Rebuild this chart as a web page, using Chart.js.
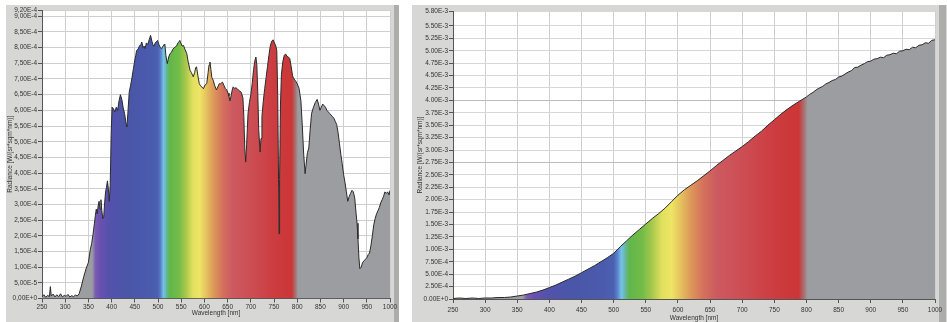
<!DOCTYPE html>
<html>
<head>
<meta charset="utf-8">
<script src="https://cdn.jsdelivr.net/npm/chart.js@4.4.1/dist/chart.umd.min.js"></script>
<style>
  html, body { margin: 0; padding: 0; background: #fff; }
  body { width: 947px; height: 322px; position: relative; overflow: hidden; }
  .panel { position: absolute; top: 5px; height: 317px; background: #d7d7d5; }
  .bar { position: absolute; top: 5px; height: 317px; background: #adadab; }
  canvas { position: absolute; top: 5px; }
</style>
</head>
<body>
<div class="panel" style="left:6px;width:393px"></div>
<div class="bar" style="left:394px;width:5px"></div>
<div class="panel" style="left:412px;width:535px"></div>
<div class="bar" style="left:939px;width:7px"></div>
<canvas id="leftChart" width="393" height="317" style="left:6px"></canvas>
<canvas id="rightChart" width="535" height="317" style="left:412px"></canvas>
<script>
// left panel: spectral radiance (W/(sr*sqm*nm)) vs wavelength
const leftNm = [250, 254, 258, 262, 266, 268, 270, 274, 278, 282, 286, 290, 294, 298, 302, 306, 310, 314, 318, 322, 326, 330,
  335, 340, 345, 350, 354, 357, 360, 363, 365, 367, 369, 371, 373, 375, 377, 379, 381, 383, 385, 387, 389, 391, 393, 395, 397, 399,
  401, 404, 407, 410, 413, 416, 419, 422, 425, 428, 431, 433, 435, 438, 441, 444, 447, 450, 452, 454, 457, 460, 463, 465, 468, 470,
  472, 475, 478, 481, 484, 487, 489, 491, 494, 497, 499, 502, 505, 508, 511, 513, 515, 517, 520, 523, 526, 529, 532, 535, 537, 540,
  543, 545, 547, 549, 552, 555, 558, 562, 565, 569, 572, 576, 579, 581, 583, 586, 589, 591, 594, 598, 601, 605, 608, 610, 612, 614,
  616, 619, 622, 626, 629, 632, 635, 639, 642, 645, 648, 651, 653, 655, 657, 660, 662, 665, 668, 670, 673, 676, 678, 680, 683, 685,
  687, 689, 691, 694, 697, 700, 703, 706, 709, 711, 713, 715, 717, 720, 722, 724, 727, 730, 733, 736, 739, 742, 745, 748, 751, 754,
  756, 758, 760, 761, 762, 764, 766, 769, 772, 775, 778, 781, 784, 787, 790, 793, 796, 800, 804, 808, 811, 814, 817, 819, 822, 825,
  828, 831, 835, 839, 843, 846, 849, 852, 855, 858, 861, 864, 867, 870, 873, 876, 879, 882, 885, 888, 891, 894, 897, 900, 903, 906,
  909, 912, 915, 918, 921, 924, 927, 929, 931, 933, 935, 938, 941, 944, 947, 950, 953, 956, 959, 962, 965, 968, 971, 974, 977, 980,
  983, 986, 989, 992, 995, 998, 1000];
const leftRadiance = [0.05e-4, 0.12e-4, 0.04e-4, 0.10e-4, 0.06e-4, 0.38e-4, 0.08e-4, 0.14e-4, 0.05e-4, 0.12e-4, 0.06e-4, 0.15e-4,
  0.05e-4, 0.10e-4, 0.07e-4, 0.13e-4, 0.05e-4, 0.09e-4, 0.06e-4, 0.11e-4, 0.08e-4, 0.15e-4,
  0.40e-4, 0.70e-4, 0.95e-4, 1.15e-4, 1.55e-4, 1.75e-4, 2.05e-4, 2.40e-4, 2.65e-4, 2.85e-4, 2.70e-4, 2.95e-4, 3.10e-4, 2.85e-4,
  3.15e-4, 2.80e-4, 2.55e-4, 2.60e-4, 3.05e-4, 3.40e-4, 3.55e-4, 3.75e-4, 3.50e-4, 3.10e-4, 3.60e-4, 5.20e-4,
  6.10e-4, 6.05e-4, 5.95e-4, 6.10e-4, 6.00e-4, 6.30e-4, 6.50e-4, 6.35e-4, 6.08e-4, 5.90e-4, 5.60e-4, 5.47e-4, 5.90e-4, 6.58e-4,
  6.80e-4, 7.05e-4, 7.33e-4, 7.60e-4, 7.75e-4, 7.91e-4, 7.95e-4, 8.05e-4, 8.10e-4, 8.18e-4, 8.00e-4, 8.05e-4,
  7.97e-4, 8.15e-4, 8.10e-4, 8.25e-4, 8.39e-4, 8.20e-4, 8.10e-4, 8.04e-4, 8.15e-4, 8.20e-4, 8.23e-4, 8.10e-4, 8.00e-4, 7.97e-4,
  8.05e-4, 8.10e-4, 8.08e-4, 7.75e-4, 7.49e-4, 7.70e-4, 7.81e-4, 7.85e-4, 7.95e-4, 8.00e-4, 8.02e-4, 8.05e-4,
  8.15e-4, 8.18e-4, 8.23e-4, 8.15e-4, 8.05e-4, 8.07e-4, 7.95e-4, 7.81e-4, 7.55e-4, 7.28e-4, 7.20e-4, 7.07e-4, 7.20e-4, 7.35e-4,
  7.39e-4, 7.10e-4, 6.85e-4, 6.80e-4, 6.75e-4, 6.69e-4, 6.80e-4, 6.85e-4, 7.20e-4, 7.45e-4, 7.54e-4, 7.30e-4,
  7.05e-4, 6.96e-4, 6.80e-4, 6.65e-4, 6.75e-4, 6.85e-4, 6.85e-4, 6.90e-4, 6.80e-4, 6.70e-4, 6.65e-4, 6.55e-4, 6.45e-4, 6.30e-4,
  6.43e-4, 6.65e-4, 6.75e-4, 6.70e-4, 6.72e-4, 6.70e-4, 6.65e-4, 6.62e-4, 6.60e-4, 6.55e-4, 6.40e-4, 5.80e-4,
  4.80e-4, 4.35e-4, 4.90e-4, 5.90e-4, 6.25e-4, 6.50e-4, 6.85e-4, 7.30e-4, 7.60e-4, 7.70e-4, 7.45e-4, 6.60e-4, 5.40e-4, 4.67e-4,
  5.10e-4, 5.80e-4, 6.30e-4, 6.70e-4, 7.05e-4, 7.40e-4, 7.75e-4, 8.05e-4, 8.20e-4, 8.25e-4, 8.15e-4, 8.05e-4,
  7.90e-4, 6.50e-4, 3.50e-4, 2.06e-4, 3.80e-4, 6.20e-4, 7.15e-4, 7.55e-4, 7.75e-4, 7.80e-4, 7.72e-4, 7.70e-4, 7.65e-4, 7.40e-4,
  7.10e-4, 7.00e-4, 6.95e-4, 6.85e-4, 6.70e-4, 6.30e-4, 5.50e-4, 4.60e-4, 3.98e-4, 4.25e-4, 4.65e-4, 4.80e-4,
  5.40e-4, 5.90e-4, 6.10e-4, 6.25e-4, 6.35e-4, 6.20e-4, 6.00e-4, 6.10e-4, 6.20e-4, 6.15e-4, 6.10e-4, 6.00e-4, 5.95e-4, 5.90e-4,
  5.85e-4, 5.80e-4, 5.75e-4, 5.65e-4, 5.55e-4, 5.30e-4, 4.95e-4, 4.60e-4, 4.30e-4, 3.95e-4, 3.70e-4, 3.40e-4,
  3.10e-4, 3.25e-4, 3.35e-4, 3.45e-4, 3.40e-4, 3.20e-4, 2.70e-4, 2.40e-4, 1.90e-4, 1.30e-4, 0.95e-4, 1.00e-4, 1.15e-4, 1.20e-4,
  1.25e-4, 1.30e-4, 1.40e-4, 1.45e-4, 1.70e-4, 2.00e-4, 2.35e-4, 2.55e-4, 2.70e-4, 2.80e-4, 2.90e-4, 3.05e-4,
  3.15e-4, 3.25e-4, 3.40e-4, 3.35e-4, 3.40e-4, 3.30e-4, 3.45e-4];

// right panel: cumulative radiance vs wavelength
const rightNm = [250, 260, 270, 280, 290, 300, 310, 320, 330, 340, 350, 360, 370, 380, 390, 400, 410, 420, 430, 440, 450, 460,
  470, 480, 490, 500, 510, 520, 530, 540, 550, 560, 570, 580, 590, 600, 610, 620, 630, 640, 650, 660, 670, 680, 690, 700, 710,
  720, 730, 740, 750, 760, 770, 780, 790, 800, 805, 810, 815, 820, 825, 830, 835, 840, 845, 850, 855, 860, 865, 870, 875, 880,
  885, 890, 895, 900, 905, 910, 915, 920, 925, 930, 935, 940, 945, 950, 955, 960, 965, 970, 975, 980, 985, 990, 995, 1000];
const rightRadiance = [0.01e-3, 0.02e-3, 0.01e-3, 0.02e-3, 0.01e-3, 0.02e-3, 0.02e-3, 0.03e-3, 0.03e-3, 0.04e-3, 0.06e-3,
  0.08e-3, 0.11e-3, 0.14e-3, 0.18e-3, 0.23e-3, 0.28e-3, 0.34e-3, 0.40e-3, 0.46e-3, 0.53e-3, 0.60e-3,
  0.67e-3, 0.75e-3, 0.83e-3, 0.92e-3, 1.05e-3, 1.17e-3, 1.29e-3, 1.40e-3, 1.51e-3, 1.62e-3, 1.72e-3, 1.83e-3, 1.96e-3, 2.09e-3,
  2.20e-3, 2.29e-3, 2.38e-3, 2.48e-3, 2.58e-3, 2.69e-3, 2.79e-3, 2.89e-3, 2.98e-3, 3.07e-3, 3.17e-3,
  3.28e-3, 3.38e-3, 3.50e-3, 3.61e-3, 3.72e-3, 3.82e-3, 3.91e-3, 3.99e-3, 4.07e-3, 4.12e-3, 4.16e-3, 4.21e-3, 4.25e-3, 4.28e-3,
  4.33e-3, 4.36e-3, 4.40e-3, 4.42e-3, 4.47e-3, 4.49e-3, 4.53e-3, 4.57e-3, 4.60e-3, 4.66e-3, 4.67e-3,
  4.71e-3, 4.74e-3, 4.78e-3, 4.79e-3, 4.83e-3, 4.84e-3, 4.87e-3, 4.86e-3, 4.91e-3, 4.92e-3, 4.95e-3, 4.94e-3, 4.99e-3, 5.00e-3,
  5.03e-3, 5.02e-3, 5.07e-3, 5.06e-3, 5.11e-3, 5.12e-3, 5.16e-3, 5.15e-3, 5.21e-3, 5.22e-3];

const xTicks = [250, 300, 350, 400, 450, 500, 550, 600, 650, 700, 750, 800, 850, 900, 950, 1000];
const leftYTicks = [0, 5e-5, 1e-4, 1.5e-4, 2e-4, 2.5e-4, 3e-4, 3.5e-4, 4e-4, 4.5e-4, 5e-4, 5.5e-4, 6e-4, 6.5e-4, 7e-4,
  7.5e-4, 8e-4, 8.5e-4, 9e-4, 9.2e-4];
const rightYTicks = [0, 2.5e-4, 5e-4, 7.5e-4, 1e-3, 1.25e-3, 1.5e-3, 1.75e-3, 2e-3, 2.25e-3, 2.5e-3, 2.75e-3, 3e-3, 3.25e-3,
  3.5e-3, 3.75e-3, 4e-3, 4.25e-3, 4.5e-3, 4.75e-3, 5e-3, 5.25e-3, 5.5e-3, 5.8e-3];
const rightDarkLines = [2.75e-3, 4e-3];

// colour of the fill along the wavelength axis
const spectrumStops = [
  [358, '#9b9da1'], [365, '#7a5cb4'], [375, '#6a50b0'], [395, '#5452ab'], [430, '#4a56a8'], [480, '#4a5aac'],
  [500, '#4c60b2'], [506, '#5a84c8'], [512, '#74c2ea'], [517, '#6ab8b0'], [524, '#5fb64c'], [545, '#74bc48'],
  [560, '#a8c84c'], [575, '#e2e05e'], [590, '#eee466'], [605, '#e4c05e'], [620, '#dc985a'], [640, '#d4705c'],
  [660, '#cc5a60'], [700, '#cc4e54'], [750, '#cc3c40'], [788, '#cc3636'], [796, '#a87072'], [802, '#9b9da1']
];

Chart.defaults.font.family = '"Liberation Sans", Arial, sans-serif';
Chart.defaults.font.size = 6.5;
Chart.defaults.color = '#333';

function spectrumFill(context) {
  const chart = context.chart;
  const a = chart.chartArea;
  if (!a) return '#9b9da1';
  const xs = chart.scales.x;
  const g = chart.ctx.createLinearGradient(a.left, 0, a.right, 0);
  spectrumStops.forEach(([nm, c]) => {
    const p = (xs.getPixelForValue(nm) - a.left) / a.width;
    g.addColorStop(Math.min(1, Math.max(0, p)), c);
  });
  return g;
}

const plotBackground = {
  id: 'plotBackground',
  beforeDraw(chart) {
    const {ctx, chartArea: a} = chart;
    ctx.save();
    ctx.fillStyle = '#fff';
    ctx.fillRect(a.left, a.top, a.width, a.height);
    ctx.restore();
  }
};

function makeChart(id, nm, values, yTicks, yMax, fmt, cfg) {
  return new Chart(document.getElementById(id), {
    type: 'line',
    data: {
      datasets: [{
        data: nm.map((x, i) => ({x: x, y: values[i]})),
        borderColor: '#2a2a2a',
        borderWidth: 1,
        backgroundColor: spectrumFill,
        fill: 'origin',
        pointRadius: 0,
        tension: 0
      }]
    },
    options: {
      responsive: false,
      animation: false,
      layout: {padding: cfg.padding},
      plugins: {legend: {display: false}, tooltip: {enabled: false}},
      scales: {
        x: {
          type: 'linear',
          min: 250,
          max: 1000,
          afterBuildTicks: (s) => { s.ticks = xTicks.map(v => ({value: v})); },
          afterFit: (s) => { s.height = cfg.xHeight; },
          ticks: {autoSkip: false, maxRotation: 0, padding: cfg.xTickPad, callback: (v) => String(v)},
          grid: {color: '#cfcfcf', tickLength: 4, tickColor: '#555'},
          border: {color: '#555'},
          title: {display: true, text: 'Wavelength [nm]', font: {size: 6.5}, padding: {top: 0, bottom: cfg.xTitlePad}}
        },
        y: {
          type: 'linear',
          min: 0,
          max: yMax,
          afterBuildTicks: (s) => { s.ticks = yTicks.map(v => ({value: v})); },
          afterFit: (s) => { s.width = cfg.yWidth; },
          ticks: {autoSkip: false, padding: 1, callback: fmt},
          grid: {color: cfg.gridColor, tickLength: 4, tickColor: '#555'},
          border: {color: '#555'},
          title: {display: true, text: 'Radiance [W/(sr*sqm*nm)]', font: {size: 6.5}, padding: {top: cfg.yTitlePad, bottom: 0}}
        }
      }
    },
    plugins: [plotBackground]
  });
}

makeChart('leftChart', leftNm, leftRadiance, leftYTicks, 9.2e-4,
  (v) => v.toExponential(2).replace('.', ',').replace('e', 'E'),
  {padding: {top: 5, right: 9, left: 0, bottom: 0}, xHeight: 23.5, yWidth: 36, xTickPad: 1, xTitlePad: 5, yTitlePad: 0,
   gridColor: '#cfcfcf'});

makeChart('rightChart', rightNm, rightRadiance, rightYTicks, 5.8e-3,
  (v) => v.toExponential(2).replace('e', 'E'),
  {padding: {top: 6, right: 12, left: 0, bottom: 0}, xHeight: 23, yWidth: 41, xTickPad: 3, xTitlePad: 0, yTitlePad: 4.6,
   gridColor: (c) => rightDarkLines.some(d => c.tick && Math.abs(c.tick.value - d) < 1e-9) ? '#bcbcbc' : '#d6d6d6'});
</script>
</body>
</html>
